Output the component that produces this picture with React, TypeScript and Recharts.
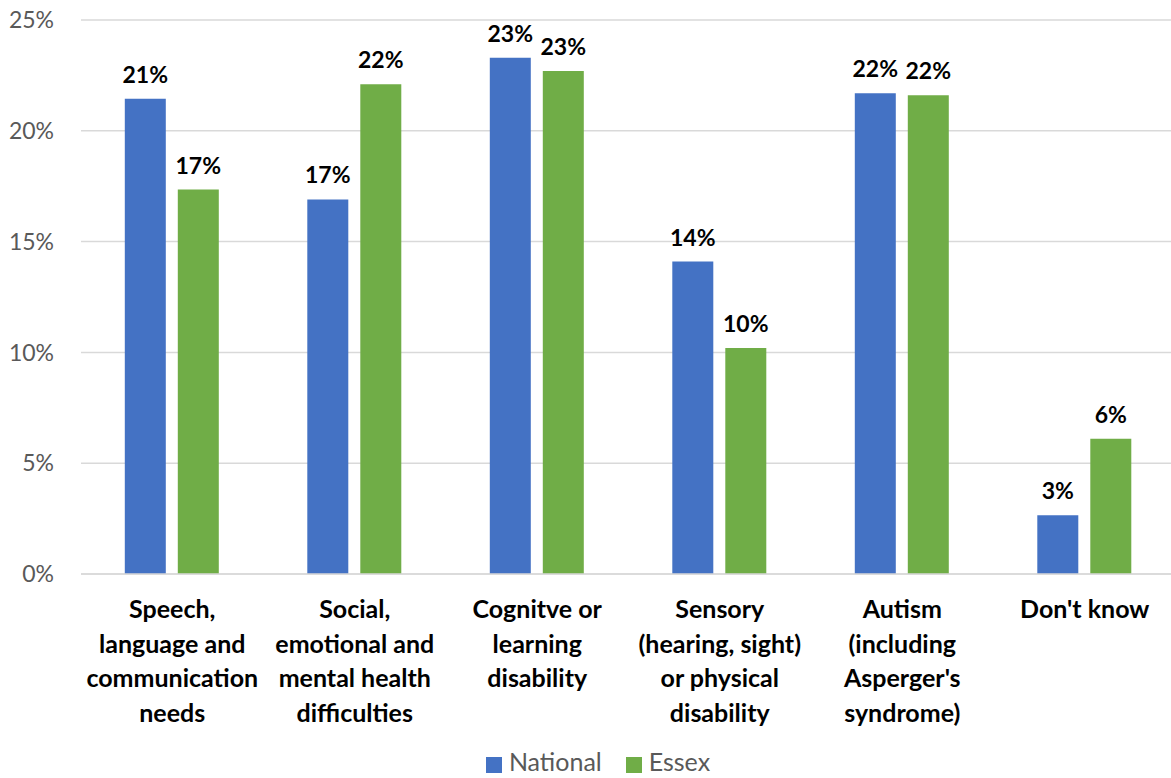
import { BarChart, Bar, XAxis, YAxis, CartesianGrid, Legend, LabelList } from 'recharts'

// categories, one entry per line of the wrapped axis label
const categories = [
  ['Speech,', 'language and', 'communication', 'needs'],
  ['Social,', 'emotional and', 'mental health', 'difficulties'],
  ['Cognitve or', 'learning', 'disability'],
  ['Sensory', '(hearing, sight)', 'or physical', 'disability'],
  ['Autism', '(including', "Asperger's", 'syndrome)'],
  ["Don't know"],
]
const national = [21.45, 16.9, 23.3, 14.1, 21.7, 2.65]
const essex = [17.35, 22.1, 22.7, 10.2, 21.6, 6.1]
const yTicks = [0, 5, 10, 15, 20, 25]
const seriesOrder = ['National', 'Essex']

const data = categories.map((lines, i) => ({
  name: lines.join(' '),
  National: national[i],
  Essex: essex[i],
}))

const FONT = 'Lato, "Open Sans", sans-serif'

function CategoryTick(props: any) {
  const { x, y, index } = props
  const lines = categories[index] || []
  return (
    <text x={x} y={y} textAnchor="middle" fontFamily={FONT} fontSize={25} fontWeight={700} fill="#000">
      {lines.map((l, i) => (
        <tspan key={i} x={x} dy={i === 0 ? 36 : 34.5}>
          {l}
        </tspan>
      ))}
    </text>
  )
}

const pct = (v: any) => `${Math.round(Number(v))}%`

export default function App() {
  return (
    <div style={{ position: 'absolute', left: 0, top: 0, width: 1171, height: 778, overflow: 'hidden', background: '#fff' }}>
      <BarChart
        width={1176}
        height={778}
        data={data}
        margin={{ top: 20, right: 0, bottom: 0, left: 0 }}
        barCategoryGap="24%"
        barGap={12}
      >
        <CartesianGrid vertical={false} stroke="#d9d9d9" strokeWidth={1.5} />
        <XAxis
          dataKey="name"
          axisLine={{ stroke: '#d9d9d9', strokeWidth: 1.5 }}
          tickLine={false}
          interval={0}
          height={168}
          tick={<CategoryTick />}
        />
        <YAxis
          domain={[0, 25]}
          ticks={yTicks}
          tickFormatter={(v) => `${v}%`}
          axisLine={false}
          tickLine={false}
          tickSize={0}
          tickMargin={27}
          width={81}
          tick={{ fill: '#595959', fontSize: 23, fontFamily: FONT }}
        />
        <Legend
          verticalAlign="bottom"
          height={36}
          iconType="square"
          iconSize={16}
          itemSorter={(item: any) => seriesOrder.indexOf(item.value)}
          wrapperStyle={{ fontFamily: FONT, fontSize: 25, color: '#595959', left: 22, transform: 'translateY(4px)' }}
          formatter={(v) => <span style={{ color: '#595959', marginLeft: 3, marginRight: 14 }}>{v}</span>}
        />
        <Bar dataKey="National" fill="#4472C4" isAnimationActive={false}>
          <LabelList dataKey="National" position="top" offset={16} formatter={pct} fill="#000" fontSize={23} fontWeight={700} fontFamily={FONT} />
        </Bar>
        <Bar dataKey="Essex" fill="#70AD47" isAnimationActive={false}>
          <LabelList dataKey="Essex" position="top" offset={16} formatter={pct} fill="#000" fontSize={23} fontWeight={700} fontFamily={FONT} />
        </Bar>
      </BarChart>
    </div>
  )
}
